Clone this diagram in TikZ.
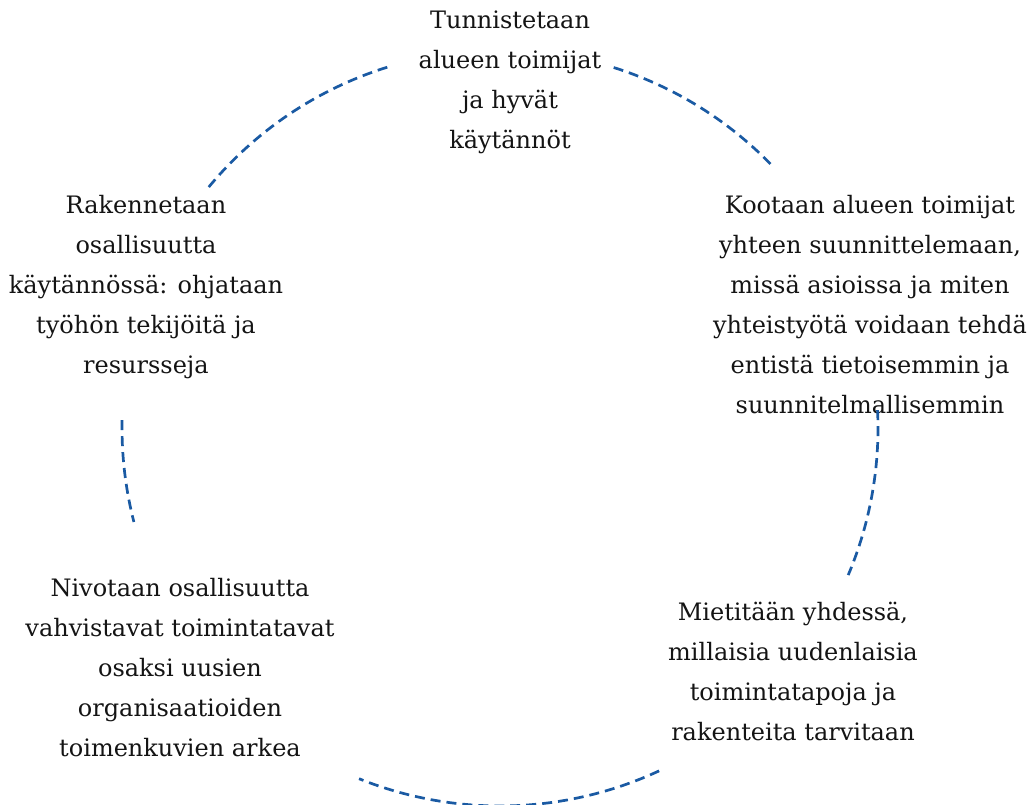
\documentclass[tikz,border=0pt]{standalone}
\usepackage{fontspec}
\setmainfont{DejaVu Serif}
\usepackage{tikz}
\definecolor{arcblue}{HTML}{1A5AA3}
\tikzset{
  phase/.style={align=center, inner sep=0pt, text=black!92,
    font=\fontsize{24}{40}\selectfont},
  arcline/.style={draw=arcblue, line width=2.7pt, dash pattern=on 10pt off 6pt}
}

\begin{document}
\begin{tikzpicture}[x=1pt,y=1pt]
\useasboundingbox (0,0) rectangle (1035,805);
\coordinate (c) at (500,377);
\node[phase] (tunn) at (510,723) {Tunnistetaan\\alueen toimijat\\ja hyvät\\käytännöt};
\node[phase] (koot) at (870,500) {Kootaan alueen toimijat\\yhteen suunnittelemaan,\\missä asioissa ja miten\\yhteistyötä voidaan tehdä\\entistä tietoisemmin ja\\suunnitelmallisemmin};
\node[phase] (miet) at (793,134) {Mietitään yhdessä,\\millaisia uudenlaisia\\toimintatapoja ja\\rakenteita tarvitaan};
\node[phase] (nivo) at (180,137) {Nivotaan osallisuutta\\vahvistavat toimintatavat\\osaksi uusien\\organisaatioiden\\toimenkuvien arkea};
\node[phase] (rake) at (146,518) {Rakennetaan\\osallisuutta\\käytännössä: ohjataan\\työhön tekijöitä ja\\resursseja};
\draw[arcline] ([shift={(140.4:378)}]c) arc[start angle=140.4, end angle=107.1, radius=378];
\draw[arcline] ([shift={(72.5:378)}]c) arc[start angle=72.5, end angle=43.7, radius=378];
\draw[arcline] ([shift={(2.7:378)}]c) arc[start angle=2.7, end angle=-22.9, radius=378];
\draw[arcline] ([shift={(-65.1:378)}]c) arc[start angle=-65.1, end angle=-111.9, radius=378];
\draw[arcline] ([shift={(178.8:378)}]c) arc[start angle=178.8, end angle=194.4, radius=378];
\end{tikzpicture}
\end{document}
